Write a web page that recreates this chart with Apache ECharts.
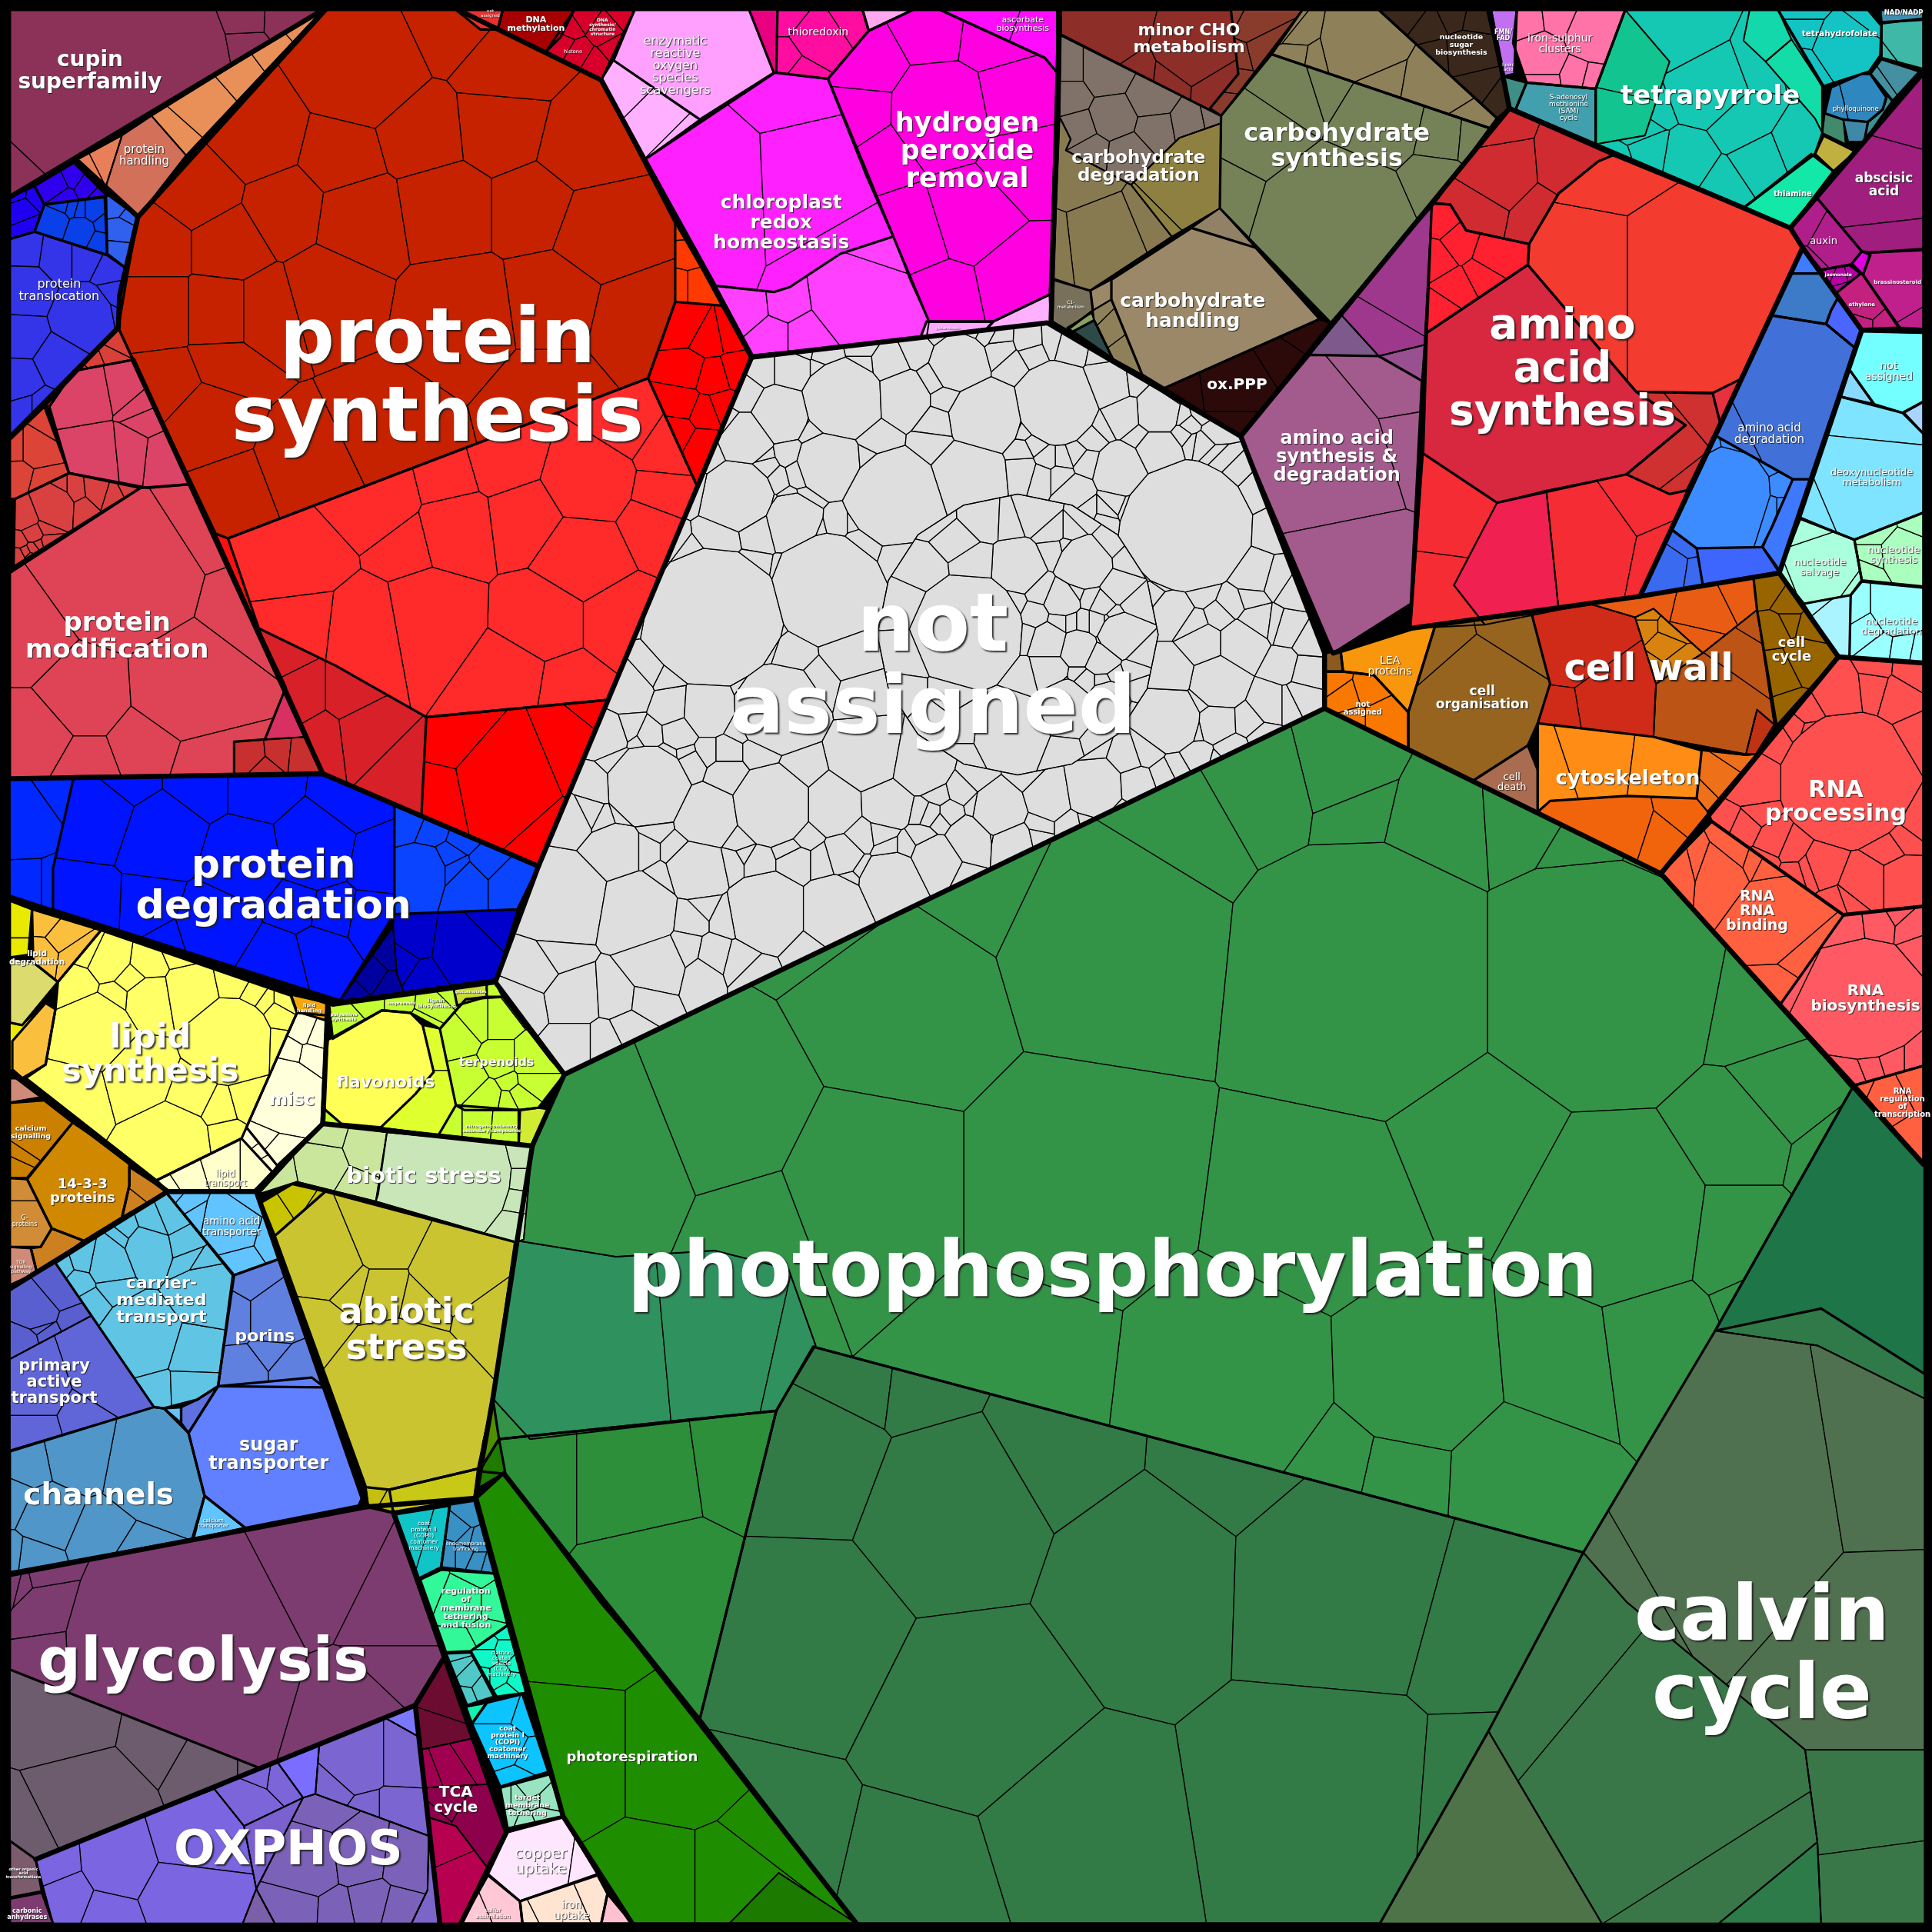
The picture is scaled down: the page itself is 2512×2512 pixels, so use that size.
<!DOCTYPE html>
<html><head><meta charset="utf-8">
<style>html,body{margin:0;padding:0;background:#000}#c{width:2512px;height:2512px}</style>
<script src="https://cdn.jsdelivr.net/npm/echarts@6/dist/echarts.min.js"></script>
</head><body><div id="c"></div>
<script>
/* Boundaries of each functional category (chart units: 0-1568). */
const regionOutlines = {
cupin:[[8,8],[262,8],[8,160]],
handlingA:[[99,110],[123,94],[151,126],[112,176],[86,151]],
handlingB:[[62,130],[99,110],[86,151]],
handlingC:[[123,94],[262,8],[151,126]],
tlDark:[[28,151],[60,132],[87,159],[36,166]],
tlNavy:[[8,160],[28,151],[36,166],[28,188],[8,194]],
tlBlue:[[36,166],[85,160],[87,207],[28,188]],
tlLight:[[86,157],[112,176],[104,219],[87,206]],
tlMain:[[8,194],[28,188],[87,207],[104,219],[96,266],[8,355]],
pmTop:[[96,266],[108,292],[60,301],[40,330],[36,330]],
pmBrick:[[8,357],[36,330],[56,384],[12,405],[8,405]],
pmPink:[[40,330],[60,301],[108,292],[154,393],[120,396],[56,384]],
pmSmall:[[12,405],[56,384],[114,396],[11,460]],
pmMain:[[8,465],[114,396],[154,393],[232,558],[215,600],[190,602],[190,630],[8,632]],
pmCorner:[[232,558],[250,598],[215,600]],
pmBottom:[[190,602],[250,598],[262,628],[190,630]],
psMain:[[112,176],[264,8],[372,8],[488,65],[548,181],[548,245],[526,307],[185,437],[175,433],[108,292],[96,266],[97,240]],
psOrange:[[548,181],[577,231],[586,248],[548,245]],
psRight:[[548,245],[586,248],[610,290],[566,395],[526,307]],
psBright:[[185,437],[526,307],[566,395],[494,568],[346,582],[272,540],[210,510]],
psSliver:[[175,433],[185,437],[210,510],[262,628]],
psLower:[[210,510],[272,540],[346,582],[342,662],[262,628]],
psPure:[[346,582],[494,568],[437,703],[342,662]],
pdLeft:[[8,632],[60,630],[43,705],[43,738],[8,728]],
pdMain:[[60,630],[262,628],[320,653],[320,742],[276,812],[43,738],[43,705]],
pdRight:[[320,653],[437,703],[420,738],[320,742]],
pdDark:[[319,752],[320,742],[420,738],[402,797],[328,806],[322,790]],
pdNavy:[[276,812],[319,752],[322,790],[328,806]],
notAssigned:[[610,290],[850,262],[1007,354],[1075,530],[1075,575],[458,872],[402,797],[437,703]],
notAssignedCore:[[940,515],[931,559],[907,596],[870,620],[826,629],[782,620],[745,596],[721,559],[712,515],[721,471],[745,434],[782,410],[826,401],[870,410],[907,434],[931,471]],
photoMain:[[458,872],[1075,575],[1348,709],[1505,880],[1392,1080],[1285,1260],[660,1093],[630,1145],[405,1168],[400,1135],[420,1005],[432,930]],
photoTeal:[[420,1007],[500,1020],[580,1015],[640,1030],[662,1092],[630,1145],[430,1168],[400,1135]],
photoLow:[[405,1168],[630,1145],[568,1395],[487,1300],[409,1196],[389,1194]],
photoDark:[[660,1093],[1285,1260],[1208,1405],[1120,1561],[695,1561],[568,1395],[630,1145]],
calvinTeal:[[1505,880],[1562,945],[1562,1115],[1478,1062],[1392,1080]],
calvinBand:[[1392,1080],[1478,1062],[1562,1115],[1562,1135],[1475,1092]],
calvinOlive:[[1392,1080],[1475,1092],[1562,1135],[1562,1420],[1465,1420],[1320,1300],[1285,1260]],
calvinRight:[[1465,1420],[1562,1420],[1562,1561],[1478,1561],[1475,1495]],
calvinMid:[[1208,1405],[1285,1260],[1320,1300],[1465,1420],[1475,1495],[1395,1561],[1300,1561]],
calvinTri:[[1120,1561],[1208,1405],[1300,1561]],
calvinFoot:[[1395,1561],[1475,1495],[1478,1561]],
photoresp:[[387,1216],[409,1196],[568,1395],[695,1561],[513,1561],[457,1474]],
photorespDark:[[592,1561],[632,1520],[695,1561]],
cupTop:[[389,1194],[405,1168],[410,1195],[388,1208]],
cupSliver:[[400,1135],[405,1168],[389,1194],[392,1170]],
ldYellow:[[8,731],[26,738],[23,775],[8,777]],
ldOrange:[[26,738],[82,755],[47,797],[27,781]],
ldOlive:[[8,777],[27,781],[47,797],[18,832],[8,830]],
ldSliver:[[8,830],[18,832],[37,814],[10,845],[10,868],[8,870]],
llOrange:[[10,845],[37,814],[45,819],[37,864],[18,875],[10,868]],
lsMain:[[47,797],[82,755],[236,808],[241,822],[196,924],[127,958],[21,875],[37,864],[45,819]],
misc:[[241,822],[265,824],[261,912],[225,946],[200,915]],
miscTail:[[196,924],[200,915],[225,946],[221,951]],
lipidTransport:[[127,958],[196,924],[221,951],[207,966],[136,967]],
lipidHandling:[[236,807],[266,814],[264,828],[241,821]],
sigPink:[[8,875],[16,875],[37,890],[8,895]],
calcium:[[8,895],[36,893],[59,911],[22,956],[8,956]],
proteins1433:[[59,911],[105,942],[105,962],[99,988],[68,1007],[42,997],[22,957]],
gProteins:[[8,956],[22,957],[42,997],[33,1012],[8,1012]],
sigBrown:[[105,947],[136,967],[99,988],[105,962]],
torPink:[[8,1012],[25,1013],[30,1033],[8,1043]],
sigLow:[[25,1013],[33,1012],[42,997],[68,1007],[45,1024],[30,1033]],
primaryA:[[8,1046],[45,1025],[74,1068],[8,1103]],
primaryB:[[8,1103],[74,1068],[125,1142],[8,1177]],
carrier:[[45,1025],[135,968],[189,1035],[177,1125],[160,1136],[133,1143],[125,1142]],
aaTransporter:[[135,968],[208,967],[226,1022],[190,1035]],
porins:[[190,1035],[226,1022],[262,1126],[177,1125]],
sugar:[[177,1125],[253,1118],[266,1128],[295,1213],[291,1222],[199,1240],[166,1214],[153,1163]],
smallViolet:[[153,1163],[177,1125],[160,1136],[147,1142],[147,1155]],
smallSky:[[133,1143],[147,1142],[147,1155]],
channels:[[8,1178],[125,1142],[133,1143],[153,1163],[166,1214],[156,1249],[8,1276]],
calciumT:[[166,1214],[199,1240],[157,1249]],
abioticTop:[[212,976],[237,961],[264,967],[223,1003]],
abiotic:[[223,1003],[264,967],[418,1008],[400,1135],[388,1192],[316,1209],[297,1207]],
abioticLow:[[297,1207],[316,1209],[319,1227],[299,1222]],
abioticStrip:[[316,1209],[388,1192],[385,1216],[319,1227]],
bioticL:[[210,969],[262,912],[314,919],[307,969],[305,975],[241,959]],
bioticR:[[314,919],[432,930],[425,1006],[418,1008],[305,975]],
flavA:[[266,844],[310,820],[333,822],[343,832],[352,870],[337,888],[309,915],[277,912],[262,899]],
flavB:[[343,832],[357,835],[370,897],[356,921],[309,915],[337,888],[352,870]],
flavSmall:[[262,899],[277,912],[262,912]],
terpenoids:[[357,835],[378,811],[395,809],[408,809],[447,860],[458,872],[437,899],[422,901],[377,901],[370,897]],
topRow:[[267,814],[401,795],[408,809],[378,811],[357,835],[333,822],[310,820],[270,843]],
glucos:[[368,801],[395,798],[395,809],[371,816]],
botRow:[[370,897],[422,901],[421,928],[356,921]],
farRight:[[421,901],[437,899],[445,900],[432,930],[421,928]],
coatII:[[321,1229],[365,1222],[358,1272],[340,1281]],
endo:[[365,1221],[385,1218],[401,1277],[358,1272]],
regulation:[[341,1282],[358,1274],[401,1277],[412,1319],[382,1340],[362,1341]],
clathrin:[[382,1340],[412,1319],[427,1374],[403,1377]],
teal4:[[362,1342],[382,1341],[401,1377],[379,1384]],
smallMint:[[378,1385],[395,1382],[383,1399]],
copI:[[395,1382],[424,1375],[445,1438],[406,1450],[383,1399]],
targetM:[[406,1451],[446,1440],[457,1474],[412,1484]],
tcaTop:[[360,1347],[383,1411],[342,1420],[337,1384]],
tcaMid:[[342,1420],[383,1411],[396,1448],[344,1451]],
tcaDark:[[344,1451],[396,1448],[411,1487],[395,1515],[370,1482],[348,1475]],
tcaLow:[[348,1475],[370,1482],[395,1515],[375,1561],[357,1561]],
copper:[[412,1487],[457,1475],[485,1521],[422,1543],[396,1521]],
ironUp:[[422,1543],[485,1522],[493,1537],[488,1561],[424,1561]],
sulfur:[[396,1522],[422,1543],[424,1561],[374,1561]],
pinkTip:[[493,1537],[513,1561],[488,1561]],
glycolysis:[[8,1278],[297,1223],[319,1228],[360,1346],[337,1384],[211,1435],[8,1355]],
glyGrey:[[8,1355],[211,1435],[29,1509],[8,1494]],
carbonic:[[8,1541],[34,1536],[43,1561],[8,1561]],
otherAcid:[[8,1494],[29,1509],[34,1535],[8,1540]],
oxA:[[29,1509],[174,1452],[198,1482],[208,1533],[197,1561],[43,1561]],
oxB:[[174,1452],[211,1435],[225,1430],[246,1459],[198,1482]],
oxC:[[225,1430],[259,1417],[256,1456],[246,1459]],
oxD:[[259,1417],[312,1394],[339,1409],[348,1490],[256,1456]],
oxTri:[[312,1394],[337,1384],[339,1409]],
oxE:[[256,1456],[348,1490],[347,1534],[334,1561],[223,1561],[208,1533],[246,1459]],
oxF:[[208,1533],[223,1561],[197,1561]],
oxG:[[348,1490],[357,1561],[334,1561],[347,1534]],
oxH:[[198,1482],[246,1459],[208,1533]],
naSmall:[[370,8],[408,8],[404,24],[390,24]],
dnaMeth:[[408,8],[466,8],[455,30],[443,42],[404,24]],
chromatin:[[466,8],[515,8],[488,65],[443,42]],
rosMain:[[515,8],[608,8],[628,59],[568,97],[498,49]],
rosLow:[[488,65],[498,49],[568,97],[524,129]],
thioDark:[[608,8],[631,8],[630,59],[628,59]],
thio:[[631,8],[700,8],[705,25],[672,64],[630,59]],
smallPink:[[700,8],[741,8],[705,25]],
h2o2:[[705,25],[741,8],[763,8],[848,47],[858,59],[852,239],[806,261],[754,261],[725,192],[702,136],[672,64]],
ascorbate:[[763,8],[858,8],[858,59],[848,47]],
redoxMain:[[629,59],[672,64],[703,142],[725,192],[682,206],[641,233],[628,237],[581,232],[524,129]],
redoxLow:[[725,192],[739,228],[754,261],[752,274],[611,288],[581,232],[628,237],[641,233],[682,206]],
glutaredoxin:[[752,261],[806,261],[800,268],[747,274]],
gluts:[[806,261],[852,239],[853,262],[800,268]],
minor:[[861,8],[999,8],[1005,60],[982,88],[991,94],[861,28]],
minorR:[[999,8],[1057,8],[1017,60],[991,94],[982,88],[1005,60]],
carbGrey:[[861,29],[991,94],[991,100],[957,112],[918,150],[865,122],[869,113],[860,95]],
carbOlive:[[957,112],[991,100],[990,169],[951,192],[918,150]],
carbTan:[[860,95],[869,113],[865,122],[918,150],[951,192],[884,236],[855,226]],
synthMain:[[991,94],[1032,44],[1209,104],[1164,165],[1080,262],[990,169]],
synthTan:[[1057,8],[1119,8],[1215,96],[1209,104],[1032,44]],
brownSugar:[[1119,8],[1207,8],[1225,88],[1215,96]],
handlingCarb:[[902,227],[967,185],[1019,201],[1071,259],[945,315],[927,304],[902,243]],
handTop:[[967,185],[990,169],[1019,201]],
handLeft:[[887,252],[902,243],[927,304],[903,291],[888,260]],
c1:[[855,227],[885,236],[887,252],[866,268],[854,261]],
tealDark:[[871,269],[888,260],[903,291]],
greenSmall:[[866,266],[886,254],[888,260],[871,269]],
handSmall:[[885,236],[902,227],[902,243],[887,252]],
oxPPP:[[945,315],[1071,259],[1080,262],[1007,354]],
aasdMain:[[1063,288],[1119,289],[1154,309],[1145,490],[1082,530],[1007,354]],
aasdTop:[[1089,256],[1162,165],[1156,280],[1119,289]],
aasdLow:[[1119,289],[1156,280],[1154,309]],
aasdGrey:[[1063,288],[1089,256],[1119,289]],
aaBig:[[1309,126],[1453,185],[1463,201],[1416,300],[1412,308],[1390,319],[1328,318],[1240,215],[1241,198],[1265,157],[1297,131]],
aaTip:[[1390,319],[1412,308],[1396,343]],
aaCrimson:[[1158,270],[1240,215],[1328,318],[1368,345],[1320,385],[1215,408],[1155,368]],
aaDarkLow:[[1328,318],[1390,319],[1396,343],[1369,398],[1355,401],[1320,385],[1368,345]],
aaTop:[[1225,89],[1309,126],[1297,131],[1265,157],[1241,198],[1190,187],[1177,166],[1162,165],[1215,100]],
aaRed:[[1162,165],[1177,166],[1190,187],[1241,198],[1240,215],[1158,270]],
aaLow:[[1155,368],[1215,408],[1180,475],[1205,507],[1145,510]],
aaRose:[[1215,408],[1255,398],[1265,495],[1205,507],[1180,475]],
aaRight:[[1255,398],[1320,385],[1355,401],[1369,398],[1357,430],[1331,484],[1265,495]],
blueTop:[[1438,256],[1454,222],[1477,222],[1492,241],[1486,252],[1482,263]],
blueMain:[[1438,256],[1482,263],[1505,282],[1470,389],[1455,389],[1393,354]],
blueBig:[[1393,354],[1455,389],[1439,426],[1430,444],[1377,445],[1357,430]],
blueBottom:[[1430,444],[1444,465],[1382,475],[1377,445]],
blueSide:[[1455,389],[1470,389],[1444,462],[1431,444],[1440,422]],
blueLow:[[1357,430],[1377,445],[1382,475],[1331,484]],
blueTip:[[1482,263],[1486,252],[1492,241],[1502,256],[1511,268],[1505,282]],
blueCap:[[1463,201],[1477,222],[1454,222]],
tetra:[[1319,8],[1443,8],[1479,70],[1479,108],[1473,125],[1416,168],[1341,137],[1295,117],[1295,72]],
tetraLeft:[[1319,8],[1355,50],[1335,110],[1295,117],[1295,72]],
tetraTop:[[1415,33],[1420,8],[1443,8],[1454,32],[1433,50]],
tetraRight:[[1433,50],[1454,32],[1479,70],[1479,108],[1473,96]],
thiamine:[[1416,168],[1470,125],[1488,139],[1453,185]],
ironS:[[1231,8],[1319,8],[1295,72],[1239,67],[1228,35]],
sam:[[1239,67],[1295,72],[1295,117],[1230,89]],
tealS:[[1220,62],[1239,67],[1230,89],[1225,88]],
purpleS:[[1210,8],[1231,8],[1229,60],[1220,62]],
thf:[[1443,8],[1516,8],[1527,21],[1526,45],[1517,58],[1480,70]],
nad:[[1526,8],[1561,8],[1561,16],[1527,18]],
pyridoxal:[[1527,19],[1561,15],[1561,56],[1527,47]],
naTeal:[[1527,48],[1558,58],[1536,82],[1518,60]],
phyllo:[[1486,71],[1511,60],[1518,60],[1531,79],[1528,89],[1516,99],[1496,97],[1481,92]],
phylloEdge:[[1518,60],[1536,82],[1513,115],[1516,99],[1528,89],[1531,79]],
phylloGreen:[[1481,92],[1496,97],[1498,117],[1479,108]],
phylloBlue:[[1496,97],[1516,99],[1513,115],[1500,115]],
yellowS:[[1480,110],[1506,123],[1488,139],[1473,125]],
abscisic:[[1474,160],[1558,60],[1561,60],[1561,203],[1518,205],[1511,204]],
auxin:[[1453,185],[1474,160],[1511,204],[1503,214],[1501,215],[1478,219],[1463,201]],
brassino:[[1518,205],[1561,202],[1561,267],[1542,266],[1512,223]],
ethylene:[[1512,223],[1541,266],[1511,267],[1490,238],[1510,222]],
jasmonate:[[1478,219],[1501,215],[1510,222],[1490,238]],
magentaS:[[1511,204],[1518,207],[1512,223],[1503,214]],
naCyan:[[1511,268],[1561,270],[1561,326],[1544,335],[1521,328],[1501,300]],
naLight:[[1501,300],[1521,328],[1494,322]],
deoxy:[[1494,322],[1544,335],[1561,352],[1561,416],[1505,438],[1480,428],[1461,420],[1465,408]],
nucTip:[[1545,335],[1561,326],[1561,352]],
salvage:[[1461,421],[1505,438],[1511,471],[1502,483],[1464,490],[1444,465]],
nucSynth:[[1505,438],[1561,416],[1561,476],[1511,471]],
nucDegA:[[1464,490],[1502,483],[1501,534],[1492,533]],
nucDegB:[[1511,472],[1561,477],[1561,538],[1501,534],[1502,483]],
naCorner:[[1075,530],[1088,528],[1090,545],[1075,545]],
lea:[[1088,528],[1145,510],[1165,507],[1143,578],[1115,548],[1090,545]],
naOrange:[[1075,545],[1090,545],[1115,548],[1143,578],[1143,608],[1075,575]],
cellOrg:[[1165,507],[1243,498],[1258,555],[1248,587],[1240,605],[1195,634],[1143,608],[1143,578]],
cwRed:[[1243,498],[1290,490],[1327,501],[1344,555],[1342,598],[1248,587],[1258,555]],
cwOrange:[[1290,490],[1331,484],[1423,468],[1426,495],[1382,530],[1342,494],[1327,501]],
cwGold:[[1327,501],[1342,494],[1382,530],[1344,555]],
cwBrown:[[1344,555],[1382,530],[1426,495],[1440,588],[1426,576],[1417,612],[1342,598]],
cwSmall:[[1426,576],[1440,588],[1425,612],[1417,612]],
cytoA:[[1248,587],[1342,598],[1381,609],[1377,648],[1320,646],[1258,650],[1248,659],[1248,625]],
cytoB:[[1248,659],[1258,650],[1320,646],[1377,648],[1387,660],[1348,709]],
cytoC:[[1381,609],[1417,613],[1426,612],[1387,660],[1377,648]],
cellDeath:[[1240,605],[1248,625],[1248,659],[1195,634]],
cellCycle:[[1423,468],[1444,465],[1492,533],[1442,589],[1426,495]],
rnaProc:[[1492,534],[1561,538],[1561,735],[1496,742],[1389,666],[1386,659]],
rnaBind:[[1348,709],[1389,667],[1496,743],[1445,815]],
rnaBio:[[1496,743],[1561,736],[1561,865],[1502,882],[1445,815]],
rnaReg:[[1504,881],[1561,865],[1561,943]]
};

/* Fill colour of each category. */
const regionColors = {cupin:'#8C3258',handlingA:'#D2705A',handlingB:'#E87F58',handlingC:'#E89058',tlDark:'#3000EE',tlNavy:'#2000F0',tlBlue:'#0A40E8',tlLight:'#3060EE',tlMain:'#3434E8',pmTop:'#D84038',pmBrick:'#DC4438',pmPink:'#DB4466',pmSmall:'#D94040',pmMain:'#DE4455',pmCorner:'#D83060',pmBottom:'#C82F2F',psMain:'#C62200',psOrange:'#FF3A00',psRight:'#FF0000',psBright:'#FF2A2A',psSliver:'#FF1010',psLower:'#D82028',psPure:'#FF0000',pdLeft:'#0028FF',pdMain:'#0014FF',pdRight:'#0A44FF',pdDark:'#0000CC',pdNavy:'#00009E',notAssigned:'#DEDEDE',notAssignedCore:'#DEDEDE',photoMain:'#339448',photoTeal:'#2F915E',photoLow:'#2D8F3A',photoDark:'#327A46',calvinTeal:'#1D7548',calvinBand:'#2F7A48',calvinOlive:'#50714F',calvinRight:'#3A7748',calvinMid:'#3A7748',calvinTri:'#4F7348',calvinFoot:'#2D7B49',photoresp:'#1F8D00',photorespDark:'#1C7A00',cupTop:'#1F7A00',cupSliver:'#4E9000',ldYellow:'#EAEA00',ldOrange:'#FBBF3E',ldOlive:'#DBDB6E',ldSliver:'#EAEA00',llOrange:'#FBBF3E',lsMain:'#FFFF66',misc:'#FFFFDC',miscTail:'#FFFFDC',lipidTransport:'#FFFFCC',lipidHandling:'#F5A80C',sigPink:'#D08A78',calcium:'#CC8000',proteins1433:'#D08800',gProteins:'#D08C36',sigBrown:'#CC8020',torPink:'#D08A78',sigLow:'#CC8020',primaryA:'#5A5FD0',primaryB:'#6065D8',carrier:'#60C4E4',aaTransporter:'#62C4FF',porins:'#6080E0',sugar:'#6080FF',smallViolet:'#5F70E0',smallSky:'#62C4FF',channels:'#5096C8',calciumT:'#62C4FF',abioticTop:'#C8C400',abiotic:'#C9C430',abioticLow:'#C5C010',abioticStrip:'#C8C816',bioticL:'#C9E69C',bioticR:'#C9E6B8',flavA:'#FFFF55',flavB:'#DFFF2F',flavSmall:'#C8FF33',terpenoids:'#C8FF33',topRow:'#C3FF33',glucos:'#C8DC33',botRow:'#C8FF33',farRight:'#D0EC33',coatII:'#10C4C8',endo:'#3890C4',regulation:'#33F89A',clathrin:'#10F8C8',teal4:'#50C8C8',smallMint:'#14F0B0',copI:'#0CC4FF',targetM:'#98E4C0',tcaTop:'#6C0C30',tcaMid:'#A00050',tcaDark:'#8C004C',tcaLow:'#B80050',copper:'#FFE6FF',ironUp:'#FFE4D2',sulfur:'#FFC8D4',pinkTip:'#FFC0D0',glycolysis:'#7D3C70',glyGrey:'#6C5C6E',carbonic:'#7D3C70',otherAcid:'#7C5C6C',oxA:'#7B65E0',oxB:'#7B65D8',oxC:'#7B6DFF',oxD:'#7B65D0',oxTri:'#7B78FF',oxE:'#7B62B8',oxF:'#7B5FA8',oxG:'#7B65C8',oxH:'#7B60D0',naSmall:'#E83030',dnaMeth:'#A80000',chromatin:'#D8002A',rosMain:'#FFA0FF',rosLow:'#FFB0FF',thioDark:'#E80080',thio:'#FF0CA0',smallPink:'#FFA8F0',h2o2:'#FF00E0',ascorbate:'#FF0CFF',redoxMain:'#FF20FF',redoxLow:'#FF40FF',glutaredoxin:'#FFA8FF',gluts:'#FFB0FF',minor:'#8E2E28',minorR:'#8A3C2C',carbGrey:'#807268',carbOlive:'#8E8040',carbTan:'#887A50',synthMain:'#758258',synthTan:'#8E8058',brownSugar:'#3A281C',handlingCarb:'#9B8868',handTop:'#918166',handLeft:'#8E8058',c1:'#78705A',tealDark:'#2E4A48',greenSmall:'#8AA060',handSmall:'#9B8868',oxPPP:'#2C0A0A',aasdMain:'#A35A8C',aasdTop:'#9E388C',aasdLow:'#985090',aasdGrey:'#7E5A8C',aaBig:'#F43B2F',aaTip:'#E83040',aaCrimson:'#D82840',aaDarkLow:'#CF3030',aaTop:'#D02B30',aaRed:'#FF2030',aaLow:'#F52C33',aaRose:'#F02050',aaRight:'#F52C33',blueTop:'#3D7AC8',blueMain:'#4070D8',blueBig:'#3C8CFF',blueBottom:'#3D66FF',blueSide:'#3D78FF',blueLow:'#3A6AF0',blueTip:'#4A66FF',blueCap:'#3F7CFF',tetra:'#14C8B4',tetraLeft:'#12C48F',tetraTop:'#12D8AC',tetraRight:'#14DCA8',thiamine:'#12E8A8',ironS:'#FF73A8',sam:'#42A0AE',tealS:'#3F8F86',purpleS:'#C070F0',thf:'#14C4C4',nad:'#3F8FAF',pyridoxal:'#3FB8A8',naTeal:'#4590A0',phyllo:'#2F87C0',phylloEdge:'#3F8F90',phylloGreen:'#428A6E',phylloBlue:'#4088A8',yellowS:'#C0B040',abscisic:'#A01E7D',auxin:'#B01E8C',brassino:'#C0208C',ethylene:'#C4207F',jasmonate:'#B800A8',magentaS:'#E000E0',naCyan:'#73FFFF',naLight:'#88D8FF',deoxy:'#7FE4FF',nucTip:'#A8D4FF',salvage:'#AAFFDC',nucSynth:'#AAFFBE',nucDegA:'#AAF4FF',nucDegB:'#9AFFFF',naCorner:'#8C5A20',lea:'#F8960C',naOrange:'#F87800',cellOrg:'#96641E',cwRed:'#D02A18',cwOrange:'#E85C14',cwGold:'#D8820F',cwBrown:'#BC5416',cwSmall:'#C03214',cytoA:'#FF8C14',cytoB:'#F2640C',cytoC:'#EE7018',cellDeath:'#AA6C50',cellCycle:'#986400',rnaProc:'#FF5050',rnaBind:'#FF6040',rnaBio:'#FF5A64',rnaReg:'#FF6040'};

/* Categories whose outline is drawn finer. */
const fineOutlines = ['photoTeal','calvinBand','calvinOlive','calvinRight','calvinMid','calvinTri','calvinFoot','tetraLeft','tetraTop','tetraRight','flavB','glyGrey','redoxLow','rosLow','photorespDark','bioticR','bioticL','carbOlive','carbTan','carbGrey','minorR','aasdTop','aasdLow','aasdGrey','pmBottom','pmCorner','thioDark','notAssignedCore','abioticLow','handSmall','handLeft','handTop','greenSmall','aaLow','aaRose','aaRight','aaTip','cytoB','cytoC','cwRed','cwOrange','cwGold','cwBrown','cwSmall','blueSide','blueBottom','blueCap','tcaMid','tcaDark','tcaLow','tcaTop','oxA','oxB','oxC','oxD','oxE','oxF','oxG','oxH','oxTri','primaryA','primaryB','psOrange','psLower','psSliver','pdLeft','pdDark','pdNavy','handlingA','handlingB','handlingC','nucDegA','phylloBlue','phylloGreen','cupSliver','ldSliver','miscTail','flavSmall'];

/* Protein cells of each category: [centre x, centre y, inscribed radius].
   The cell walls come from a power diagram of these, clipped to the category outline. */
const regionCells = {
cupin:[[90,60,95],[10,145,17],[232,17,15],[206,38,6],[205,16,4]],
handlingC:[[165,82,20],[190,60,12],[222,36,8],[240,20,4],[142,108,6]],
handlingB:[[82,125,10],[72,130,6]],
tlDark:[[45,150,7],[60,143,6],[70,150,6],[52,160,3],[80,160,3]],
tlNavy:[[18,170,7],[24,185,5],[14,158,3],[28,160,3]],
tlBlue:[[65,187,10],[45,180,9],[58,170,3],[65,172,3],[75,172,5],[80,195,4],[83,182,3],[50,168,3]],
tlLight:[[98,186,7],[95,168,5],[96,205,5],[104,175,3]],
tlMain:[[69,257,22],[19,236,18],[17,272,14],[47,209,9],[69,209,8],[48,293,14],[15,309,13],[21,330,5],[93,239,5],[89,219,5],[31,330,5],[85,254,5],[20,205,7]],
pmTop:[[78,295,5],[90,290,6],[70,305,3],[95,280,3]],
pmBrick:[[30,365,11],[15,385,7],[14,365,4],[35,390,4],[42,345,3]],
pmPink:[[75,369,18],[67,322,15],[104,315,6],[133,369,11],[106,366,9],[120,340,3],[115,328,3]],
pmSmall:[[44,411,15],[21,420,8],[27,433,6],[79,398,6],[92,402,4],[104,396,2],[60,400,4],[27,445,3],[21,448,2],[31,442,2],[15,451,3],[17,439,2],[66,412,3],[37,428,3],[50,400,2],[38,440,2],[25,452,2]],
pmMain:[[100,470,55],[30,520,22],[70,560,32],[150,555,42],[30,595,20],[118,600,20],[170,425,18],[195,495,14],[70,618,8],[165,615,10]],
pmBottom:[[205,612,7],[225,610,7],[245,612,6],[215,622,3]],
psMain:[[295,54,38],[208,112,22],[161,157,22],[129,200,20],[185,200,24],[179,251,24],[129,251,22],[137,315,20],[181,297,12],[214,251,22],[268,236,28],[293,181,28],[277,129,14],[231,172,22],[166,342,26],[187,402,20],[250,378,28],[312,348,28],[365,21,13],[404,104,24],[408,58,18],[345,110,22],[362,170,30],[430,170,22],[470,120,14],[485,190,24],[445,245,30],[510,260,14],[375,255,38],[445,315,20]],
psOrange:[[558,205,6],[565,232,5],[552,232,4],[556,185,3]],
psRight:[[575,275,10],[557,265,9],[590,272,6],[560,300,9],[578,305,10],[595,300,5],[572,335,8],[555,328,6],[585,330,5],[570,360,6],[552,350,4]],
psBright:[[478,391,26],[472,455,30],[426,423,20],[443,503,30],[500,503,26],[461,554,20],[417,547,22],[531,427,12],[544,363,14],[540,403,10],[408,371,18],[300,400,34],[350,500,28],[245,450,25],[295,510,24],[370,430,22],[360,385,14],[510,340,16],[252,505,8],[330,440,7]],
psLower:[[240,565,14],[300,595,18],[260,600,8],[325,620,10],[285,565,6],[225,535,7]],
psPure:[[410,635,35],[470,610,20],[450,680,10],[370,600,8],[490,585,4],[360,645,6]],
pdLeft:[[22,670,22],[24,715,8],[40,715,3],[50,650,3]],
pdMain:[[173,750,28],[123,734,18],[76,732,12],[138,761,9],[223,781,18],[260,772,10],[196,700,28],[130,680,30],[85,665,22],[255,690,26],[210,640,11],[285,650,8],[305,700,11],[160,640,10],[105,640,5],[270,740,8],[300,745,5],[240,735,7]],
pdRight:[[345,705,14],[380,715,10],[352,672,7],[375,680,5],[395,700,6],[410,715,5],[335,665,4],[365,695,3],[370,705,3]],
pdDark:[[375,770,22],[340,765,9],[395,750,6],[345,790,6],[330,780,3]],
pdNavy:[[300,790,9],[285,805,4],[315,775,4],[315,800,3]],
notAssigned:[[963,427,52],[858,328,32],[787,385,27],[725,405,37],[684,324,31],[732,322,18],[778,294,22],[800,339,28],[673,377,25],[634,336,21],[599,403,28],[643,423,22],[579,501,55],[671,477,43],[632,574,35],[949,584,24],[989,554,20],[1008,523,17],[951,495,13],[977,523,13],[951,546,13],[987,586,13],[1017,465,13],[910,382,20],[940,367,17],[940,335,16],[910,337,13],[899,312,17],[873,399,9],[831,381,7],[526,638,32],[575,662,24],[626,654,31],[675,654,20],[721,652,17],[566,706,22],[623,739,30],[678,739,27],[724,718,26],[760,700,20],[787,682,17],[811,658,20],[851,646,17],[888,640,22],[822,684,16],[704,612,26],[748,620,23],[923,638,13],[511,562,15],[495,596,12],[513,590,8],[526,596,9],[544,574,13],[551,594,11],[575,576,20],[590,630,13],[459,730,32],[517,740,30],[500,690,20],[465,809,20],[498,807,13],[531,781,22],[721,294,11],[643,300,13],[605,357,19],
[650,283,6],[670,287,7],[700,280,7],[745,283,9],[760,305,6],[812,285,8],[835,277,7],[870,280,10],[895,285,7],[925,355,5],[885,355,6],[895,345,4],[862,372,5],[873,368,4],[860,385,4],[882,375,5],[850,372,6],[840,360,6],[845,385,5],[830,365,5],[822,345,4],[832,350,4],[905,405,6],[895,415,4],[885,415,4],[917,410,4],[990,375,6],[965,345,5],[975,360,6],[960,352,4],[620,380,7],[615,430,14],[586,435,12],[560,455,6],[610,460,7],[640,465,5],[630,390,6],[700,440,10],[730,450,8],[700,375,5],[650,385,8],[647,340,5],[640,535,12],[660,555,10],[690,530,13],[700,565,8],[612,560,10],[600,590,8],[590,610,9],[615,610,8],[650,625,7],[605,640,5],[560,620,8],[540,615,6],[575,610,6],[520,600,4],[505,620,6],[486,640,5],[600,680,8],[615,700,9],[595,700,6],[645,700,10],[668,700,6],[685,695,12],[640,690,5],[520,690,8],[535,715,6],[530,670,5],[590,745,6],[560,745,8],[555,770,8],[580,775,8],[600,780,7],[1020,505,10],[1040,540,8],[1030,570,10],[1000,610,9],[972,615,8],[1060,545,6],[1045,510,8],[1050,480,6],[1035,470,7],[990,620,5],[955,625,6],[930,610,7],[1062,520,4],[885,605,6],[915,615,8],[945,630,8],[780,640,7],[770,660,5],[790,630,6],[835,630,5],[760,645,5],[755,660,6],[720,690,6],[700,680,6],[840,680,6],[870,670,6],[910,660,7],[940,650,5],[780,710,8],[745,745,6],[440,790,10],[430,815,6],[465,845,12],[510,835,6],[490,845,8],[455,780,6],[525,810,6],[570,790,6],[1030,430,8],[1015,400,7],[1000,385,6],[985,350,5],[965,310,5],[560,395,10],[540,440,7],[530,465,6],[520,490,4],[620,300,6],[605,320,8],[590,345,6],[575,370,5],[760,270,5],[790,265,5],[800,270,4],[920,290,5],[950,320,4],[915,310,4],[975,335,5],[1000,410,6],
[837,284,5],[855,276,4],[811,276,4],[820,294,5],[960,339,3],[969,359,3],[986,371,3],[894,419,3],[936,483,4],[969,507,4],[1035,507,4],[557,614,3],[614,582,4],[605,694,4],[653,678,4],[715,678,4],[750,658,4],[763,666,3],[842,670,4],[640,405,4],[655,403,3],[625,410,3],[660,430,3],[680,425,4],[695,425,3],[618,372,3],[640,368,3],[660,350,3],[710,355,4],[762,345,4],[760,360,3],[770,322,3],[700,296,3],[665,300,3],[930,460,4],[945,470,4],[1000,490,4],[1015,485,3],[975,480,3],[990,500,3],[975,570,3],[970,590,3],[1012,585,4],[1025,600,3],[1045,570,3],[1055,565,3],[965,640,3],[880,668,3],[795,655,3],[800,680,3],[735,690,3],[750,680,3],[700,705,3],[690,715,3],[655,770,3],[610,790,3],[570,735,3],[540,650,3],[550,690,3],[505,660,3],[490,665,3],[480,660,4],[470,665,3],[540,550,3],[530,545,3],[620,510,3],[625,530,3]],
notAssignedCore:[[785,511,44],[826,461,18],[880,457,20],[840,413,15],[910,515,17],[875,526,13],[851,520,13],[851,546,13],[894,535,11],[908,477,11],[862,487,12],[796,419,13],[750,463,13],[776,439,11],[789,459,12],[820,594,30],[864,574,22],[899,570,17],[820,420,6],[855,430,6],[870,430,5],[880,420,6],[900,440,7],[915,455,5],[920,490,7],[895,490,7],[890,505,6],[905,500,4],[845,480,5],[840,500,6],[820,490,6],[860,505,5],[880,505,4],[925,530,5],[880,555,8],[895,555,6],[925,560,7],[920,580,6],[835,550,6],[760,420,7],[738,490,12],[740,530,10],[735,565,8],[755,585,10],[770,565,6],[785,590,12],[785,612,6],[860,610,6],[895,600,6],[857,447,3],[866,445,3],[872,480,3],[868,505,3],[885,485,3],[900,505,3],[900,520,3],[835,515,3],[875,550,3],[860,555,3],[905,550,3],[920,545,3]],
photoMain:[[735,820,65],[905,770,80],[1105,790,100],[1300,790,90],[710,960,62],[875,960,85],[1065,985,65],[1200,930,35],[1310,990,60],[1000,1115,75],[830,1095,52],[1150,1110,60],[1265,1100,35],[1340,1090,30],[590,900,50],[490,940,58],[618,995,18],[1090,625,24],[1165,665,20],[1030,640,20],[960,680,18],[800,720,18],[680,745,8],[1100,650,5],[1240,660,8],[1290,690,12],[1330,720,6],[1230,1195,35],[1135,1190,15],[1090,1180,8],[1430,815,22],[1455,890,26],[1420,920,20],[1420,1005,22],[1440,1050,8],[1490,935,22]],
photoTeal:[[480,1090,50],[590,1080,42],[635,1090,12]],
photoLow:[[520,1200,40],[540,1290,50],[430,1200,18],[590,1190,12]],
photoDark:[[770,1230,65],[665,1190,45],[660,1320,60],[790,1385,62],[930,1285,62],[1085,1290,75],[1070,1460,85],[880,1490,60],[1195,1320,32],[1200,1470,50],[750,1530,30],[620,1500,28],[700,1120,16],[740,1125,6],[1000,1190,18],[855,1180,30]],
calvinOlive:[[1400,1215,85],[1525,1195,32],[1530,1330,45],[1305,1270,8]],
calvinRight:[[1520,1455,38],[1530,1530,22]],
calvinMid:[[1360,1420,80],[1270,1345,30],[1430,1530,25]],
photoresp:[[480,1310,42],[555,1420,42],[470,1420,30],[600,1530,28],[535,1530,18],[627,1495,6]],
ldYellow:[[15,752,8],[15,768,5]],
ldOrange:[[50,760,9],[38,750,4],[60,775,7],[36,772,5]],
ldOlive:[[25,810,14]],
lsMain:[[76,839,30],[187,844,33],[138,928,30],[65,884,20],[111,872,26],[120,812,16],[156,806,18],[156,888,14],[178,899,9],[200,893,8],[183,922,8],[107,795,6],[118,783,5],[89,779,12],[60,801,11],[189,799,8],[225,824,8],[222,845,7],[70,770,5],[205,808,5],[215,815,3],[230,815,3],[148,770,4],[95,810,4]],
misc:[[229,888,27],[246,837,7],[256,841,5],[252,855,4],[237,852,4],[212,928,3],[220,935,2]],
miscTail:[[203,926,3],[210,935,3],[216,945,3]],
lipidTransport:[[183,945,12],[150,955,8],[205,945,10],[138,963,3]],
calcium:[[28,920,16],[12,948,4],[18,935,4]],
gProteins:[[20,990,15],[20,968,5]],
sigBrown:[[118,965,7],[110,975,4]],
primaryA:[[30,1065,12],[50,1048,8],[20,1090,8],[40,1085,6],[60,1075,7],[33,1075,3]],
primaryB:[[90,1110,28],[30,1130,18],[30,1160,10],[65,1150,8]],
carrier:[[116,1086,30],[156,1098,20],[127,1127,14],[155,1126,18],[164,1051,22],[120,1014,18],[89,1026,17],[91,1040,10],[69,1022,10],[65,1041,9],[51,1028,6],[73,1055,6],[125,997,9],[137,992,5],[146,1009,6],[103,1008,3],[107,1003,3],[130,1015,3],[152,1025,3],[160,1030,3]],
aaTransporter:[[188,997,20],[194,1020,10],[205,972,4],[146,980,5],[139,974,4],[152,990,3],[216,1005,3]],
porins:[[220,1069,20],[193,1069,15],[197,1111,12],[237,1111,9],[218,1095,6],[205,1048,3]],
channels:[[125,1192,34],[62,1180,22],[23,1188,14],[39,1230,20],[81,1248,17],[11,1217,12],[27,1265,10],[11,1263,4],[100,1260,2]],
abioticTop:[[225,985,6],[240,975,6],[255,985,4]],
abiotic:[[262,1020,30],[310,1000,27],[370,1030,30],[310,1047,11],[283,1040,10],[345,1055,9],[255,1075,12],[325,1130,55],[395,1065,12],[265,1015,2]],
abioticLow:[[305,1215,4],[314,1220,3]],
bioticL:[[260,947,18],[297,932,12],[264,922,8],[227,953,10],[285,962,5]],
bioticR:[[362,953,52],[422,959,6],[422,938,5],[420,972,5],[416,995,3]],
flavB:[[350,850,7],[350,890,12]],
terpenoids:[[372,843,13],[387,830,10],[406,830,11],[406,859,13],[379,874,13],[395,890,10],[431,859,15],[431,876,10],[414,878,5],[422,888,7],[412,893,5],[423,817,5],[440,850,5]],
topRow:[[280,830,8],[300,812,6],[325,812,8],[350,815,10],[360,805,3],[345,825,4],[400,803,3]],
botRow:[[387,913,10],[411,915,10],[366,913,6]],
coatII:[[338,1240,8],[355,1245,7]],
endo:[[372,1240,6],[380,1230,5],[388,1250,6],[375,1262,5],[388,1268,4],[365,1262,4],[395,1270,2],[380,1248,3]],
regulation:[[375,1300,16],[398,1300,8],[373,1335,6],[350,1290,4],[385,1280,4],[392,1325,3]],
clathrin:[[395,1345,6],[410,1340,5],[405,1360,6],[418,1365,4],[420,1350,3],[395,1335,3],[410,1322,4],[392,1360,3],[412,1372,3]],
teal4:[[370,1352,4],[380,1362,5],[390,1370,3],[378,1375,3],[368,1345,2]],
copI:[[410,1415,14],[425,1395,7],[410,1390,5],[430,1425,7],[420,1445,3]],
targetM:[[420,1462,5],[432,1452,4],[442,1462,4],[425,1478,4],[440,1472,3],[415,1474,3],[436,1462,2],[412,1462,2]],
tcaTop:[[350,1405,9],[360,1375,12]],
tcaMid:[[365,1435,11],[352,1440,5],[380,1425,7]],
tcaDark:[[385,1475,12],[362,1462,10],[355,1470,3]],
tcaLow:[[375,1530,16],[360,1495,6]],
copper:[[440,1505,22],[475,1510,4]],
ironUp:[[450,1545,18],[480,1532,5],[430,1555,3]],
sulfur:[[408,1545,10],[385,1555,5]],
glycolysis:[[140,1335,85],[265,1270,22],[325,1300,22],[307,1384,8],[325,1365,8],[35,1305,18],[20,1290,6],[32,1287,5],[12,1288,3],[40,1340,7]],
glyGrey:[[50,1385,32],[70,1465,30],[175,1425,18],[195,1425,3],[135,1402,3],[20,1490,4]],
oxA:[[100,1510,26],[150,1495,24],[145,1535,26],[90,1555,13],[52,1540,12],[42,1515,8]],
oxB:[[205,1465,13],[228,1442,10],[215,1440,4]],
oxD:[[290,1430,22],[322,1430,12],[300,1470,8],[320,1470,12],[272,1450,6]],
oxE:[[250,1510,24],[290,1505,20],[330,1510,14],[240,1548,8],[300,1545,12],[262,1468,10],[275,1550,5],[320,1550,6]],
chromatin:[[470,42,6],[490,25,9],[463,23,5],[475,15,5],[483,50,5],[497,38,6],[505,12,2],[458,35,3]],
rosLow:[[530,100,15],[505,75,8],[545,115,4]],
thio:[[664,31,16],[690,14,6],[640,12,3],[640,48,4],[650,56,2]],
h2o2:[[757,21,14],[803,27,10],[702,52,14],[698,92,12],[764,94,34],[829,133,18],[741,187,20],[786,173,25],[832,229,25],[764,243,12],[819,83,16],[720,125,4]],
ascorbate:[[800,14,12],[845,30,8]],
redoxMain:[[575,150,38],[662,146,38],[645,72,9],[690,195,4]],
redoxLow:[[692,239,28],[626,272,10],[607,250,12],[636,247,8],[706,197,8],[650,272,5]],
minor:[[900,25,22],[967,42,24],[982,67,3],[950,65,9],[925,62,5]],
minorR:[[1015,20,10],[1025,40,9],[1005,45,4],[1002,67,6],[1000,84,5],[1003,14,3]],
carbGrey:[[898,58,17],[869,58,6],[869,78,11],[903,95,15],[935,78,15],[938,104,10],[965,99,10],[876,104,10],[915,125,12],[886,122,9],[984,95,5]],
carbOlive:[[965,150,28],[935,180,4]],
carbTan:[[896,192,28],[879,148,15],[861,196,6],[925,180,7]],
synthMain:[[1083,185,60],[1049,76,17],[1120,99,27],[1026,110,22],[1172,111,12],[1194,113,8],[1167,148,15],[1071,69,4],[1000,160,3]],
synthTan:[[1103,37,28],[1115,65,12],[1167,74,20],[1055,28,5],[1054,44,4],[1066,46,3],[1045,20,4],[1180,95,3]],
brownSugar:[[1192,42,13],[1157,23,8],[1182,11,6],[1199,72,8],[1214,83,6],[1162,44,6],[1145,14,6],[1196,14,5]],
handLeft:[[900,265,8],[915,285,5],[895,260,3]],
oxPPP:[[1000,310,22],[960,315,8],[1050,270,6],[1040,285,5],[1000,345,5]],
aasdMain:[[1075,370,48],[1095,470,38],[1135,320,12],[1140,350,6]],
aasdTop:[[1130,220,30],[1105,262,12]],
aaBig:[[1380,230,60],[1290,230,32],[1310,122,4]],
aaTop:[[1215,140,22],[1275,135,15],[1210,110,6],[1200,165,8],[1250,175,6]],
aaRed:[[1215,205,14],[1185,195,8],[1172,180,4],[1165,210,6],[1205,222,4],[1180,235,6],[1170,250,4]],
aaDarkLow:[[1350,360,24],[1380,335,4],[1375,392,3]],
aaLow:[[1178,420,14],[1170,480,12]],
aaRight:[[1295,440,28],[1345,450,12],[1330,415,8]],
blueMain:[[1450,320,40],[1400,345,3]],
blueBig:[[1402,398,34],[1445,395,7],[1435,375,6],[1445,410,3],[1385,365,4],[1412,360,10],[1440,410,2]],
blueLow:[[1355,462,12],[1370,440,5],[1375,465,3]],
blueBottom:[[1410,460,14]],
tetra:[[1385,68,30],[1415,100,20],[1370,130,16],[1340,125,6],[1340,85,8],[1310,135,5],[1430,130,20],[1400,150,12],[1450,122,14],[1365,30,28],[1420,55,6],[1470,45,4],[1330,100,5]],
tetraLeft:[[1320,50,20],[1310,95,12]],
ironS:[[1295,28,20],[1250,45,15],[1240,18,6],[1265,15,6],[1282,60,4],[1250,65,3],[1290,62,3]],
thf:[[1495,35,22],[1470,25,10],[1465,55,10],[1510,15,6],[1470,12,5]],
pyridoxal:[[1545,35,13],[1532,45,3]],
naTeal:[[1540,65,8],[1530,72,6]],
phyllo:[[1510,80,13],[1490,85,5]],
abscisic:[[1530,150,32],[1535,195,18],[1545,95,14]],
auxin:[[1490,195,18],[1470,215,2],[1472,185,2]],
brassino:[[1540,235,22],[1555,260,3]],
ethylene:[[1515,245,12],[1530,262,4],[1510,262,3]],
jasmonate:[[1492,225,4],[1505,222,3],[1495,235,2],[1485,222,2]],
deoxy:[[1525,345,13],[1520,395,38],[1466,418,3]],
salvage:[[1478,462,26],[1470,438,5],[1453,472,3],[1500,478,3]],
nucSynth:[[1545,450,18],[1525,452,6],[1525,432,6],[1555,425,5],[1520,465,3]],
nucDegA:[[1484,512,18],[1470,495,4]],
nucDegB:[[1540,495,18],[1515,512,8],[1525,525,5],[1545,528,6],[1555,530,3],[1505,495,3]],
lea:[[1120,530,14]],
naOrange:[[1092,565,8],[1108,560,5],[1120,585,8],[1085,555,3],[1098,585,5]],
cellOrg:[[1200,570,42],[1165,530,6],[1235,515,4]],
cwRed:[[1275,530,26],[1300,565,20],[1270,570,8]],
cwOrange:[[1380,490,20],[1350,483,8],[1400,480,6],[1375,512,5]],
cwGold:[[1350,525,8],[1335,510,4],[1340,540,4],[1356,510,4],[1360,538,4],[1335,497,3]],
cwBrown:[[1382,570,32],[1410,530,12],[1425,505,3]],
cytoA:[[1295,615,24],[1350,622,20],[1265,625,8]],
cytoB:[[1310,672,22],[1350,685,8],[1370,660,6]],
cytoC:[[1390,625,10],[1400,610,5],[1375,640,3]],
cellCycle:[[1465,535,14],[1445,545,12],[1440,510,8],[1450,490,5],[1470,510,5],[1435,480,5],[1455,575,6],[1450,505,2]],
rnaProc:[[1500,633,53],[1492,561,18],[1519,558,10],[1540,564,10],[1421,633,20],[1515,716,17],[1544,716,18],[1479,702,12],[1440,682,9],[1415,670,9],[1454,688,7],[1404,665,6],[1425,659,6],[1531,690,8],[1556,665,10],[1556,600,8],[1467,576,7],[1550,547,5],[1521,544,4],[1471,705,7],[1504,730,6],[1440,600,10],[1455,590,5],[1470,595,4],[1432,700,4],[1455,710,4],[1490,735,3],[1545,680,4]],
rnaBind:[[1442,745,30],[1394,710,16],[1466,773,12],[1380,705,5],[1410,690,6],[1425,695,3],[1368,708,3],[1435,700,3],[1445,805,3]],
rnaBio:[[1513,811,48],[1500,754,9],[1525,751,9],[1550,753,7],[1519,865,8],[1504,871,6],[1535,860,9],[1554,860,6],[1557,773,10],[1540,742,3],[1480,795,3]],
rnaReg:[[1530,893,14],[1555,880,5],[1550,925,5],[1512,885,3]]
};

/* Category borders drawn heavier than the rest. */
const majorBorders = [
[[8,160],[262,8]],
[[372,8],[488,65],[610,290],[437,703],[402,797],[458,872],[1075,575],[1348,709],[1561,945]],
[[8,632],[262,628],[437,703]],
[[8,728],[270,815],[402,797]],
[[610,290],[850,262],[1007,354],[1075,530],[1075,575]],
[[860,8],[853,262]],
[[1007,354],[1225,88],[1209,8]],
[[1225,88],[1453,185],[1463,201],[1331,484],[1145,510],[1082,530]],
[[1331,484],[1444,465],[1492,533],[1348,709]],
[[1463,201],[1511,268],[1444,465]],
[[1453,185],[1560,60]],
[[1511,268],[1561,269]],
[[1492,533],[1561,538]],
[[458,872],[432,930],[420,1005],[400,1135],[386,1215],[457,1474],[513,1561]],
[[262,912],[432,930]],
[[207,967],[262,912],[266,814]],
[[8,870],[136,967],[208,967],[297,1223],[386,1216]],
[[8,1046],[136,967]],
[[8,1278],[297,1223]],
[[319,1227],[411,1487],[374,1561]],
[[29,1509],[337,1384],[360,1346]],
[[337,1384],[357,1561]],
[[112,176],[97,240],[96,266],[8,355]],
[[62,130],[112,176],[264,8]],
[[108,292],[262,628]],
[[409,1196],[695,1561]]
];

/* Text in the picture. */
const labelTexts = ["photophosphorylation","not\nassigned","protein\nsynthesis","calvin\ncycle","glycolysis","OXPHOS","amino\nacid\nsynthesis","tetrapyrrole","hydrogen\nperoxide\nremoval","chloroplast\nredox\nhomeostasis","enzymatic\nreactive\noxygen\nspecies\nscavengers","thioredoxin","ascorbate\nbiosynthesis","DNA\nmethylation","minor CHO\nmetabolism","carbohydrate\nsynthesis","carbohydrate\ndegradation","carbohydrate\nhandling","ox.PPP","amino acid\nsynthesis &\ndegradation","cell wall","cell\norganisation","LEA\nproteins","not\nassigned","cell\ndeath","cytoskeleton","cell\ncycle","RNA\nprocessing","RNA\nRNA\nbinding","RNA\nbiosynthesis","RNA\nregulation\nof\ntranscription","not\nassigned","deoxynucleotide\nmetabolism","amino acid\ndegradation","nucleotide\nsalvage","nucleotide\nsynthesis","nucleotide\ndegradation","abscisic\nacid","auxin","thiamine","phylloquinone","tetrahydrofolate","NAD/NADP","iron-sulphur\nclusters","S-adenosyl\nmethionine\n(SAM)\ncycle","nucleotide\nsugar\nbiosynthesis","FMN/\nFAD","lipoic\nacid","brassinosteroid","ethylene","jasmonate","protein\nhandling","cupin\nsuperfamily","protein\ntranslocation","protein\nmodification","protein\ndegradation","lipid\nsynthesis","lipid\ndegradation","misc","lipid\ntransport","flavonoids","terpenoids","biotic stress","abiotic\nstress","14-3-3\nproteins","calcium\nsignalling","G-\nproteins","amino acid\ntransporter","carrier-\nmediated\ntransport","porins","primary\nactive\ntransport","sugar\ntransporter","channels","calcium\ntransporter","regulation\nof\nmembrane\ntethering\nand fusion","coat\nprotein II\n(COPII)\ncoatomer\nmachinery","endomembrane\ntrafficking","clathrin\ncoated\nvesicle\n(CCV)\nmachinery","coat\nprotein I\n(COPI)\ncoatomer\nmachinery","target\nmembrane\ntethering","copper\nuptake","iron\nuptake","sulfur\nassimilation","TCA\ncycle","photorespiration","carbonic\nanhydrases","other organic\nacid\ntransformations","C1-\nmetabolism","glutaredoxin","polyamine\nsynthesis","lignin\nbiosynthesis","isoprenoids","glucosinolates","nitrogen-containing\nsecondary compounds","lipid\nhandling","histone","DNA\nsynthesis/\nchromatin\nstructure","not\nassigned","TOR\nsignalling\npathway"];
/* Where each text sits: [x, y, font size, bold]. */
const labelPlacement = [[903,1031,101,1],[757,540,105,1],[355,305,100,1],[1430,1342,100,1],[165,1348,78,1],[234,1500,63,1],[1268,298,55,1],[1388,77,34,1],[785,122,35,1],[634,180,25,1],[548,53,16,0],[664,26,14,0],[830,19,11,0],[435,19,11,1],[965,31,22,1],[1085,118,32,1],[924,135,23,1],[968,252,25,1],[1004,312,20,1],[1085,370,24,1],[1338,542,48,1],[1203,566,17,1],[1128,540,14,0],[1106,575,10,1],[1227,634,13,0],[1321,631,26,1],[1454,527,18,1],[1490,650,30,1],[1426,739,19,1],[1514,810,20,1],[1544,895,10,1],[1533,301,14,0],[1519,387,13,0],[1436,352,15,0],[1477,460,13,0],[1537,450,13,0],[1535,508,13,0],[1529,150,17,1],[1480,195,13,0],[1455,157,10,1],[1506,88,8.5,0],[1493,27,10.5,1],[1545,10,8.5,1],[1266,35,14,0],[1273,87,9,0],[1186,36,9.5,1],[1220,28,8,1],[1224,54,6,0],[1540,229,7,1],[1511,247,7,1],[1492,223,6,1],[117,126,15,0],[73,57,28,1],[48,235,16,0],[95,516,34,1],[222,718,52,1],[122,855,43,1],[30,777,10.5,1],[237,892,23,1],[183,956,12,0],[313,878,22,1],[403,862,16,1],[344,954,29,1],[330,1079,46,1],[67,966,18,1],[25,919,9.5,1],[20,991,8,0],[188,995,13.5,0],[131,1055,22,1],[215,1084,22,1],[44,1121,21,1],[218,1180,24,1],[80,1213,39,1],[173,1236,7,0],[378,1305,11,1],[344,1246,7.5,0],[378,1255,6.5,0],[407,1350,7,0],[412,1414,9,1],[428,1465,9.5,1],[439,1510,19.5,0],[464,1550,13.6,0],[400,1553,7.5,0],[370,1460,20,1],[513,1426,18,1],[22,1553,8,1],[19,1520,5,1],[869,247,6,0],[769,266,5,0],[279,825,6,1],[354,814,7,1],[326,814,5.5,1],[382,805,5,1],[399,916,6,1],[251,818,6.5,1],[465,42,6.5,0],[489,22,6,1],[398,11,5.5,0],[17,1028,6,0]];

/* ---- build the cells ---- */
function clipHalfPlane(poly,a,b,c){ // keep a*x+b*y<=c
  const out=[];
  for(let i=0;i<poly.length;i++){
    const p=poly[i],q=poly[(i+1)%poly.length];
    const dp=a*p[0]+b*p[1]-c,dq=a*q[0]+b*q[1]-c;
    if(dp<=0)out.push(p);
    if((dp<0&&dq>0)||(dp>0&&dq<0)){const t=dp/(dp-dq);out.push([p[0]+t*(q[0]-p[0]),p[1]+t*(q[1]-p[1])]);}
  }
  return out;
}
function cellsOf(outline,seeds){
  if(!seeds||seeds.length<2)return [outline];
  return seeds.map((s,i)=>{
    let poly=outline;
    for(let j=0;j<seeds.length&&poly.length>2;j++){
      if(j===i)continue;
      const t=seeds[j];
      poly=clipHalfPlane(poly,2*(t[0]-s[0]),2*(t[1]-s[1]),t[0]*t[0]+t[1]*t[1]-t[2]*t[2]-s[0]*s[0]-s[1]*s[1]+s[2]*s[2]);
    }
    return poly;
  }).filter(p=>p.length>2);
}
const cellPolys=[],cellFill=[],outlineKeys=Object.keys(regionOutlines);
outlineKeys.forEach(k=>{cellsOf(regionOutlines[k],regionCells[k]).forEach(p=>{cellPolys.push(p);cellFill.push(regionColors[k]);});});

const chart=echarts.init(document.getElementById('c'),null,{renderer:'canvas'});
chart.setOption({
  animation:false,backgroundColor:'#000',
  grid:{left:0,right:0,top:0,bottom:0,containLabel:false},
  xAxis:{type:'value',min:0,max:1568,show:false},
  yAxis:{type:'value',min:0,max:1568,inverse:true,show:false},
  tooltip:{show:false},
  series:[
   {type:'custom',name:'cells',coordinateSystem:'cartesian2d',silent:true,clip:true,data:cellPolys.map((p,i)=>[i]),
    renderItem:(params,api)=>{const i=api.value(0);return {type:'polygon',shape:{points:cellPolys[i].map(p=>api.coord(p))},style:{fill:cellFill[i],stroke:'#000',lineWidth:1.3,lineJoin:'round'}};}},
   {type:'custom',name:'categories',coordinateSystem:'cartesian2d',silent:true,clip:true,data:outlineKeys.map((k,i)=>[i]),
    renderItem:(params,api)=>{const k=outlineKeys[api.value(0)];return {type:'polygon',shape:{points:regionOutlines[k].map(p=>api.coord(p))},style:{fill:'none',stroke:'#000',lineWidth:k==='notAssignedCore'?1.2:(fineOutlines.indexOf(k)>=0?2:3.2),lineJoin:'round'}};}},
   {type:'custom',name:'borders',coordinateSystem:'cartesian2d',silent:true,clip:true,data:majorBorders.map((k,i)=>[i]),
    renderItem:(params,api)=>({type:'polyline',shape:{points:majorBorders[api.value(0)].map(p=>api.coord(p))},style:{fill:'none',stroke:'#000',lineWidth:6.5,lineJoin:'round',lineCap:'round'}})},
   {type:'scatter',name:'labels',coordinateSystem:'cartesian2d',silent:true,symbolSize:1,itemStyle:{color:'rgba(0,0,0,0)',opacity:1},z:10,labelLayout:{hideOverlap:false},
    data:labelTexts.map((t,i)=>{const [x,y,s,b]=labelPlacement[i];return {value:[x,y+s*0.045],name:t,itemStyle:{opacity:1},label:{show:true,position:'inside',formatter:t,color:'#fff',opacity:1,fontFamily:'DejaVu Sans',fontWeight:b?'bold':'normal',fontSize:s,lineHeight:Math.round(s*1.02),align:'center',verticalAlign:'middle',textShadowColor:'rgba(30,30,30,0.9)',textShadowBlur:s>40?2:1,textShadowOffsetX:s>40?2:1,textShadowOffsetY:s>40?2:1}};})}
  ]
});
</script></body></html>
